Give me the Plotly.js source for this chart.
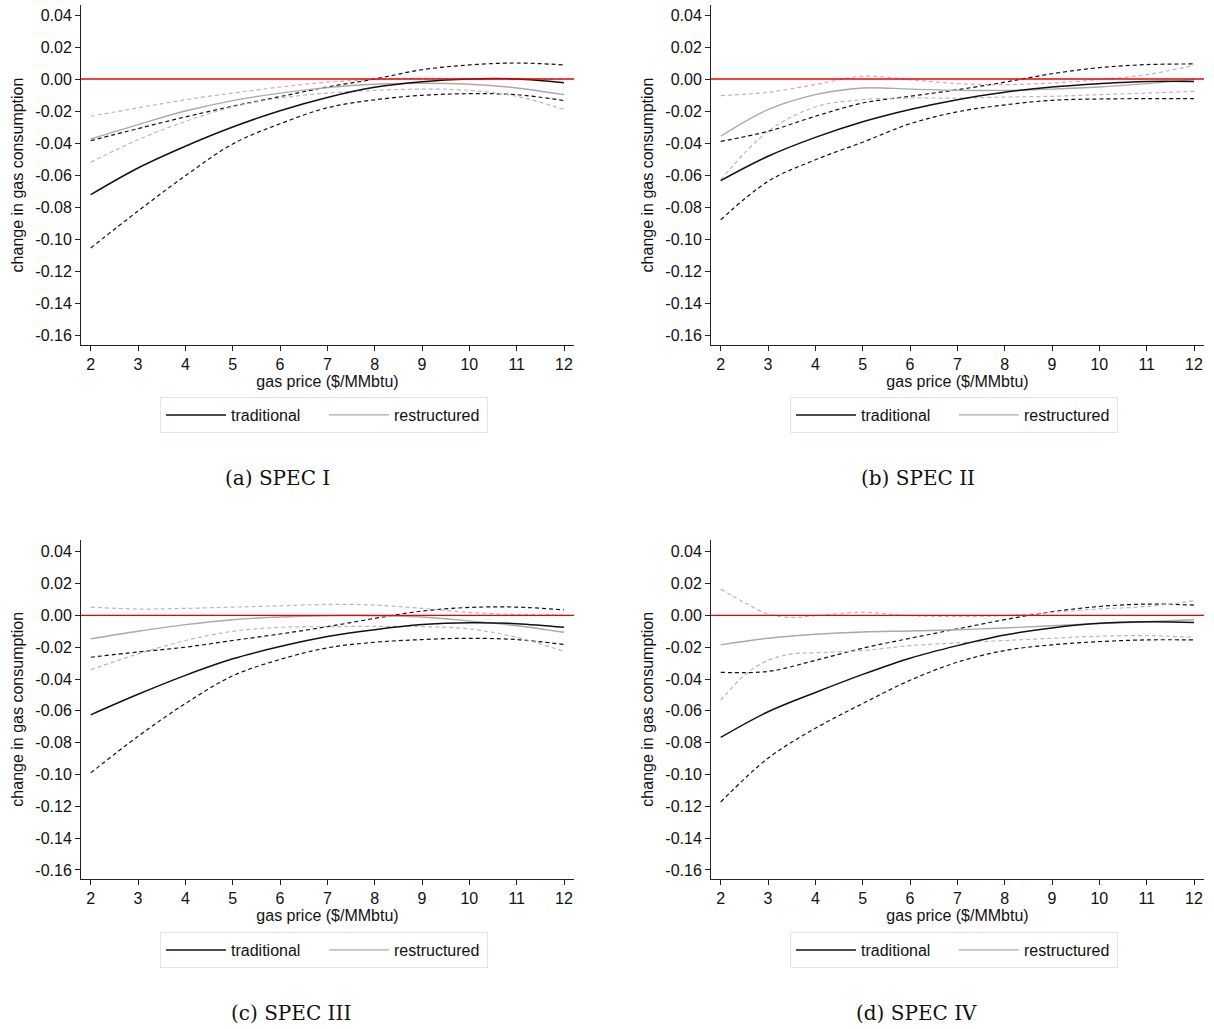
<!DOCTYPE html>
<html>
<head>
<meta charset="utf-8">
<script src="https://cdn.plot.ly/plotly-3.0.1.min.js"></script>
<style>html,body{margin:0;padding:0;background:#fff;}#chart{width:1214px;height:1029px;}</style>
</head>
<body>
<div id="chart"></div>
<script>
// ---------- data ----------
const price = [2,3,4,5,6,7,8,9,10,11,12];
const priceHalf = [2,2.5,3,3.5,4,5,6,7,8,9,10,11,12];
const xTicks = [2,3,4,5,6,7,8,9,10,11,12];
const yTicks = [0.04,0.02,0.00,-0.02,-0.04,-0.06,-0.08,-0.10,-0.12,-0.14,-0.16];
const yTickText = ['0.04','0.02','0.00','-0.02','-0.04','-0.06','-0.08','-0.10','-0.12','-0.14','-0.16'];
const seriesNames = ['traditional','restructured'];
const panelCaptions = ['(a) SPEC I','(b) SPEC II','(c) SPEC III','(d) SPEC IV'];

// SPEC I
const a_trad    = [-0.0723,-0.0556,-0.0420,-0.0300,-0.0198,-0.0115,-0.0052,-0.0017,0.0000,0.0000,-0.0023];
const a_tradHi  = [-0.0385,-0.0310,-0.0237,-0.0170,-0.0110,-0.0050,0.0000,0.0058,0.0088,0.0100,0.0088];
const a_tradLo  = [-0.1056,-0.0825,-0.0605,-0.0406,-0.0280,-0.0180,-0.0130,-0.0102,-0.0092,-0.0098,-0.0135];
const a_rest    = [-0.0375,-0.0285,-0.0200,-0.0135,-0.0088,-0.0054,-0.0033,-0.0027,-0.0033,-0.0056,-0.0098];
const a_restHi  = [-0.0233,-0.0180,-0.0130,-0.0088,-0.0050,-0.0020,-0.0004,0.0004,0.0000,0.0000,-0.0004];
const a_restLo  = [-0.0520,-0.0380,-0.0265,-0.0175,-0.0119,-0.0088,-0.0071,-0.0063,-0.0071,-0.0108,-0.0190];
// SPEC II
const b_trad    = [-0.0635,-0.0483,-0.0365,-0.0267,-0.0190,-0.0129,-0.0083,-0.0050,-0.0029,-0.0015,-0.0015];
const b_tradHi  = [-0.0390,-0.0327,-0.0233,-0.0150,-0.0108,-0.0067,-0.0020,0.0033,0.0071,0.0090,0.0094];
const b_tradLo  = [-0.0880,-0.0640,-0.0505,-0.0395,-0.0280,-0.0205,-0.0162,-0.0133,-0.0125,-0.0123,-0.0123];
const b_rest    = [-0.0358,-0.0192,-0.0098,-0.0056,-0.0063,-0.0071,-0.0071,-0.0063,-0.0050,-0.0029,-0.0004];
const b_restHi  = [-0.0104,-0.0083,-0.0035,0.0017,-0.0004,-0.0029,-0.0035,-0.0025,-0.0004,0.0027,0.0085];
const b_restLo  = [-0.0630,-0.0327,-0.0175,-0.0129,-0.0119,-0.0119,-0.0113,-0.0108,-0.0098,-0.0088,-0.0077];
// SPEC III
const c_trad    = [-0.0625,-0.0496,-0.0377,-0.0273,-0.0196,-0.0133,-0.0090,-0.0058,-0.0046,-0.0052,-0.0075];
const c_tradHi  = [-0.0263,-0.0230,-0.0200,-0.0158,-0.0117,-0.0071,-0.0019,0.0027,0.0050,0.0052,0.0035];
const c_tradLo  = [-0.0990,-0.0760,-0.0554,-0.0380,-0.0277,-0.0204,-0.0169,-0.0152,-0.0144,-0.0152,-0.0183];
const c_rest    = [-0.0148,-0.0100,-0.0058,-0.0027,-0.0010,-0.0002,-0.0002,-0.0010,-0.0035,-0.0065,-0.0106];
const c_restHi  = [0.0052,0.0040,0.0044,0.0052,0.0060,0.0069,0.0065,0.0044,0.0019,0.0006,0.0002];
const c_restLo  = [-0.0342,-0.0242,-0.0158,-0.0100,-0.0075,-0.0071,-0.0069,-0.0071,-0.0085,-0.0138,-0.0227];
// SPEC IV
const d_trad    = [-0.0767,-0.0606,-0.0485,-0.0371,-0.0269,-0.0190,-0.0123,-0.0079,-0.0050,-0.0040,-0.0044];
const d_tradHi  = [-0.0358,-0.0352,-0.0283,-0.0206,-0.0144,-0.0085,-0.0027,0.0023,0.0056,0.0071,0.0065];
const d_tradLo  = [-0.1173,-0.0898,-0.0710,-0.0554,-0.0408,-0.0294,-0.0221,-0.0185,-0.0165,-0.0154,-0.0154];
const d_rest    = [-0.0185,-0.0144,-0.0119,-0.0104,-0.0098,-0.0090,-0.0079,-0.0065,-0.0052,-0.0040,-0.0027];
const d_restHi  = [0.0165,0.0081,0.0008,-0.0013,-0.0002,0.0019,-0.0002,-0.0006,-0.0002,0.0019,0.0040,0.0056,0.0092];
const d_restLo  = [-0.0533,-0.0377,-0.0283,-0.0242,-0.0235,-0.0221,-0.0190,-0.0173,-0.0158,-0.0144,-0.0131,-0.0127,-0.0138];

// ---------- styling ----------
const FONT = 'Liberation Sans, Arial, sans-serif';
const FS = 16;
const BLACK = '#111111', GREY = '#a9a9a9', GREYDASH = '#b8b8b8', RED = '#f00000';

const panels = [
  {sfx:'',  leg:'legend',  trad:a_trad, tradHi:a_tradHi, tradLo:a_tradLo, rest:a_rest, restHi:a_restHi, restLo:a_restLo, rx:price},
  {sfx:'2', leg:'legend2', trad:b_trad, tradHi:b_tradHi, tradLo:b_tradLo, rest:b_rest, restHi:b_restHi, restLo:b_restLo, rx:price},
  {sfx:'3', leg:'legend3', trad:c_trad, tradHi:c_tradHi, tradLo:c_tradLo, rest:c_rest, restHi:c_restHi, restLo:c_restLo, rx:price},
  {sfx:'4', leg:'legend4', trad:d_trad, tradHi:d_tradHi, tradLo:d_tradLo, rest:d_rest, restHi:d_restHi, restLo:d_restLo, rx:priceHalf}
];

const traces = [];
panels.forEach(p => {
  const xa = 'x' + p.sfx, ya = 'y' + p.sfx;
  const base = {type:'scatter', mode:'lines', xaxis:xa, yaxis:ya, hoverinfo:'skip'};
  traces.push(Object.assign({}, base, {x:price, y:p.tradHi, showlegend:false, line:{color:BLACK, width:1.2, dash:'4px,3px', shape:'spline'}}));
  traces.push(Object.assign({}, base, {x:price, y:p.tradLo, showlegend:false, line:{color:BLACK, width:1.2, dash:'4px,3px', shape:'spline'}}));
  traces.push(Object.assign({}, base, {x:p.rx, y:p.restHi, showlegend:false, line:{color:GREYDASH, width:1.2, dash:'4px,3px', shape:'spline'}}));
  traces.push(Object.assign({}, base, {x:p.rx, y:p.restLo, showlegend:false, line:{color:GREYDASH, width:1.2, dash:'4px,3px', shape:'spline'}}));
  traces.push(Object.assign({}, base, {x:price, y:p.rest, name:seriesNames[1], legend:p.leg, legendrank:2, line:{color:GREY, width:1.4, shape:'spline'}}));
  traces.push(Object.assign({}, base, {x:price, y:p.trad, name:seriesNames[0], legend:p.leg, legendrank:1, line:{color:BLACK, width:1.5, shape:'spline'}}));
});

const W = 1214, H = 1029;
const xDomL = [81/W, 574/W], xDomR = [711/W, 1204/W];
const yDomT = [1-345/H, 1-5/H], yDomB = [1-879/H, 1-539.5/H];
const yRangeT = [-0.16625, 0.04625], yRangeB = [-0.1657, 0.0477];
const xRange = [1.795, 12.211];

function xAxis(dom, anchor){
  return {domain:dom, anchor:anchor, range:xRange, tickmode:'array', tickvals:xTicks, ticktext:xTicks.map(String),
    ticks:'outside', ticklen:5, tickwidth:1, tickcolor:'#222', showline:true, linecolor:'#222', linewidth:1,
    showgrid:false, zeroline:false, fixedrange:true,
    tickfont:{family:FONT, size:FS, color:'#111'},
    title:{text:'gas price ($/MMbtu)', font:{family:FONT, size:FS, color:'#111'}, standoff:1}};
}
function yAxis(dom, anchor, rng){
  return {domain:dom, anchor:anchor, range:rng, tickmode:'array', tickvals:yTicks, ticktext:yTickText,
    ticks:'outside', ticklen:5, tickwidth:1, tickcolor:'#222', showline:true, linecolor:'#222', linewidth:1,
    showgrid:false, zeroline:false, fixedrange:true,
    tickfont:{family:FONT, size:FS, color:'#111'},
    title:{text:'change in gas consumption', font:{family:FONT, size:FS, color:'#111'}, standoff:7}};
}
function legendBox(xpx, ypx){
  return {orientation:'h', x:xpx/W, y:1-ypx/H, xanchor:'left', yanchor:'top', bgcolor:'#ffffff',
    bordercolor:'#dde6e8', borderwidth:1, font:{family:FONT, size:FS, color:'#111'},
    itemwidth:60, entrywidth:88, entrywidthmode:'pixels', traceorder:'normal'};
}

const shapes = ['', '2', '3', '4'].map(s => ({type:'line', xref:'x'+s+' domain', x0:0, x1:1, yref:'y'+s, y0:0, y1:0,
  line:{color:RED, width:1.3}, layer:'above'}));

const capPos = [[277,478],[918,478],[291,1013],[916,1013]];
const annotations = panelCaptions.map((t,i)=>({text:t, xref:'paper', yref:'paper', x:capPos[i][0]/W, y:1-capPos[i][1]/H,
  xanchor:'center', yanchor:'middle', showarrow:false, font:{family:'DejaVu Serif, serif', size:20, color:'#111'}}));

const layout = {
  width:W, height:H, margin:{l:0,r:0,t:0,b:0}, paper_bgcolor:'#fff', plot_bgcolor:'#fff', showlegend:true,
  xaxis:xAxis(xDomL,'y'), yaxis:yAxis(yDomT,'x',yRangeT),
  xaxis2:xAxis(xDomR,'y2'), yaxis2:yAxis(yDomT,'x2',yRangeT),
  xaxis3:xAxis(xDomL,'y3'), yaxis3:yAxis(yDomB,'x3',yRangeB),
  xaxis4:xAxis(xDomR,'y4'), yaxis4:yAxis(yDomB,'x4',yRangeB),
  legend:legendBox(160,397), legend2:legendBox(790,397), legend3:legendBox(160,932), legend4:legendBox(790,932),
  shapes:shapes, annotations:annotations
};

Plotly.newPlot('chart', traces, layout, {staticPlot:true, displayModeBar:false});
</script>
</body>
</html>
